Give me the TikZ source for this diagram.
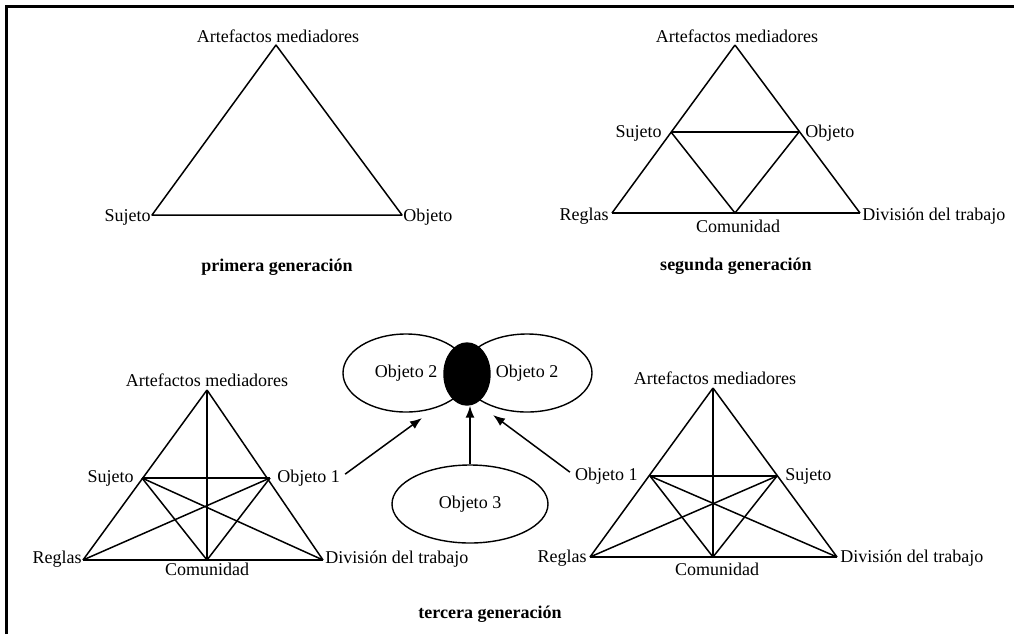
\documentclass[tikz,border=0pt]{standalone}
\usepackage{fontspec}
\setmainfont{Liberation Serif}
\usetikzlibrary{calc}
\usetikzlibrary{shapes.geometric}
\usetikzlibrary{arrows.meta}

\tikzset{
  lbl/.style={inner sep=0pt, font=\fontsize{9}{10}\selectfont},
  gen/.style={inner sep=0pt, font=\fontsize{9}{10}\selectfont\bfseries},
  edge/.style={line width=0.75pt, line join=round},
  oval/.style={draw, ellipse, line width=0.7pt, inner sep=0pt, font=\fontsize{9}{10}\selectfont},
}

\begin{document}
\begin{tikzpicture}[x=0.5pt, y=-0.5pt]
  \useasboundingbox (0,0) rectangle (1014,634);
  \draw[line width=1.5pt] (6,634) -- (6,6) -- (1014,6);

  % primera generacion
  \coordinate (a1) at (276,45);
  \coordinate (r1) at (152,215);
  \coordinate (d1) at (402,215);
  \draw[edge] (a1) -- (r1) -- (d1) -- cycle;
  \node[lbl, anchor=base] (t1a) at (278,42) {Artefactos mediadores};
  \node[lbl, anchor=base east] (t1s) at (151,221) {Sujeto};
  \node[lbl, anchor=base west] (t1o) at (403,221) {Objeto};
  \node[gen, anchor=base] (g1) at (277,271) {primera generación};

  % segunda generacion
  \coordinate (a2) at (735,45);
  \coordinate (r2) at (612,213);
  \coordinate (d2) at (860,213);
  \coordinate (lm2) at (671,132);
  \coordinate (rm2) at (799,132);
  \coordinate (c2) at (735,213);
  \foreach \p/\q in {a/r, a/d, r/d, lm/rm, lm/c, rm/c} {
    \draw[edge] (\p2) -- (\q2);
  }
  \node[lbl, anchor=base] (t2a) at (737,42) {Artefactos mediadores};
  \node[lbl, anchor=base east] (t2s) at (662,137) {Sujeto};
  \node[lbl, anchor=base west] (t2o) at (805,137) {Objeto};
  \node[lbl, anchor=base east] (t2r) at (609,220) {Reglas};
  \node[lbl, anchor=base west] (t2d) at (862,220) {División del trabajo};
  \node[lbl, anchor=base] (t2c) at (738,232) {Comunidad};
  \node[gen, anchor=base] (g2) at (736,270) {segunda generación};

  % tercera generacion
  \coordinate (a3) at (207,390);
  \coordinate (r3) at (83,560);
  \coordinate (d3) at (323,560);
  \coordinate (lm3) at (142,478);
  \coordinate (rm3) at (270,478);
  \coordinate (c3) at (207,560);
  \coordinate (a4) at (713,388);
  \coordinate (r4) at (590,557);
  \coordinate (d4) at (837,557);
  \coordinate (lm4) at (650,476);
  \coordinate (rm4) at (777,476);
  \coordinate (c4) at (713,557);
  \foreach \t in {3,4} {
    \foreach \p/\q in {a/r, a/d, r/d, lm/rm, a/c, lm/d, rm/r, lm/c, rm/c} {
      \draw[edge] (\p\t) -- (\q\t);
    }
  }
  \node[lbl, anchor=base] (t3a) at (207,386) {Artefactos mediadores};
  \node[lbl, anchor=base east] (t3s) at (134,482) {Sujeto};
  \node[lbl, anchor=base west] (t3o) at (277,482) {Objeto 1};
  \node[lbl, anchor=base east] (t3r) at (82,563) {Reglas};
  \node[lbl, anchor=base west] (t3d) at (325,563) {División del trabajo};
  \node[lbl, anchor=base] (t3c) at (207,575) {Comunidad};

  \node[lbl, anchor=base] (t4a) at (715,384) {Artefactos mediadores};
  \node[lbl, anchor=base east] (t4o) at (638,480) {Objeto 1};
  \node[lbl, anchor=base west] (t4s) at (785,480) {Sujeto};
  \node[lbl, anchor=base east] (t4r) at (587,562) {Reglas};
  \node[lbl, anchor=base west] (t4d) at (840,562) {División del trabajo};
  \node[lbl, anchor=base] (t4c) at (717,575) {Comunidad};

  \node[oval, minimum width=63pt, minimum height=39pt] (obj2a) at (406,373) {Objeto 2};
  \node[oval, minimum width=65pt, minimum height=39pt] (obj2b) at (527,373) {Objeto 2};
  \node[oval, fill=black, minimum width=23pt, minimum height=31pt] (lens) at (467,374) {};
  \node[oval, minimum width=78pt, minimum height=39pt] (obj3) at (470,504) {Objeto 3};

  \coordinate (tipl) at (422,418);
  \coordinate (tipr) at (493,415);
  \draw[edge, ->, >={Latex[length=6pt, width=4.5pt]}, shorten <=3pt] (t3o.east) -- (tipl);
  \draw[edge, ->, >={Latex[length=6pt, width=4.5pt]}, shorten <=3pt] (t4o.west) -- (tipr);
  \draw[edge, ->, >={Latex[length=6pt, width=4.5pt]}] (obj3.north) -- (obj3.north |- lens.south);

  \node[gen, anchor=base] (g3) at (490,618) {tercera generación};
\end{tikzpicture}
\end{document}
